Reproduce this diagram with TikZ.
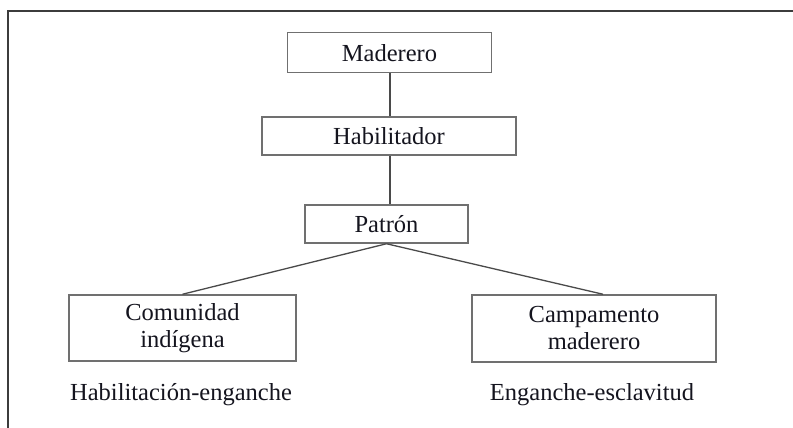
\documentclass[tikz,border=0pt]{standalone}
\usepackage{fontspec}
\setmainfont{Liberation Serif}
\definecolor{boxgray}{HTML}{707070}
\definecolor{framegray}{HTML}{3C3C3C}
\definecolor{linegray}{HTML}{4A4A4A}
\definecolor{textcol}{HTML}{14141E}
\tikzset{
  box/.style={draw=boxgray, line width=1.5pt, rectangle, inner sep=0pt, align=center,
    font=\fontsize{24.5}{27}\selectfont, text=textcol},
  lab/.style={inner sep=0pt, font=\fontsize{24.5}{27}\selectfont, text=textcol},
  conn/.style={draw=linegray, line width=1.3pt},
}
\begin{document}
\begin{tikzpicture}[x=1pt,y=-1pt]
\useasboundingbox (0,0) rectangle (793,428);
% frame (top and left sides visible)
\draw[framegray, line width=2pt] (7.5,428) -- (7.5,11.5) -- (793,11.5);
% nodes
\node[box, minimum width=204, minimum height=40] (mad) at (389.5,52.7) {Maderero};
\node[box, minimum width=254, minimum height=38] (hab) at (389,136) {Habilitador};
\node[box, minimum width=163, minimum height=38] (pat) at (386.5,224) {Patr\'on};
\node[box, minimum width=227, minimum height=66] (com) at (182.5,328) {Comunidad\\ind\'igena};
\node[box, minimum width=244, minimum height=67] (cam) at (594,328.5) {Campamento\\maderero};
\node[lab] (l1) at (181,395) {Habilitaci\'on-enganche};
\node[lab] (l2) at (592,395) {Enganche-esclavitud};
% connectors
\draw[conn] ([xshift=0.5pt]mad.south) -- ([xshift=0.5pt]mad.south |- hab.north);
\draw[conn] ([xshift=1pt]hab.south) -- ([xshift=1pt]hab.south |- pat.north);
\draw[conn] (pat.south) -- (com.north);
\draw[conn] (pat.south) -- ([xshift=9pt]cam.north);
\end{tikzpicture}
\end{document}
